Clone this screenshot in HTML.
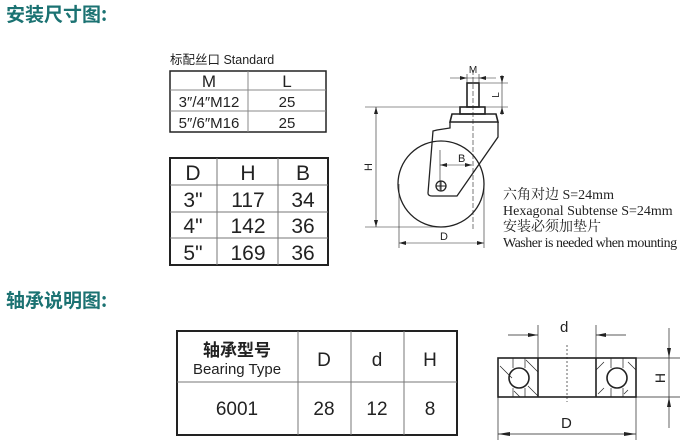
<!DOCTYPE html>
<html><head><meta charset="utf-8"><style>
body{margin:0;width:686px;height:443px;background:#fff;position:relative;overflow:hidden;font-family:"Liberation Sans","Noto Sans CJK SC",sans-serif}
.t{position:absolute;color:#1b7272;font-weight:bold;font-size:19px;font-family:"Noto Sans CJK SC",sans-serif;line-height:1}
svg{position:absolute;left:0;top:0}
</style></head><body>
<div class="t" style="left:6px;top:4px">安装尺寸图:</div>
<div class="t" style="left:6px;top:290px">轴承说明图:</div>
<svg width="686" height="443" viewBox="0 0 686 443" font-family="Liberation Sans, Noto Sans CJK SC, sans-serif" fill="none" stroke="#222">
<!-- table1 -->
<text x="170" y="64" font-size="12.5" fill="#222" stroke="none">标配丝口 Standard</text>
<rect x="170" y="71" width="156" height="61" stroke-width="1.5"/>
<line x1="170" y1="90" x2="326" y2="90" stroke="#888"/>
<line x1="170" y1="111" x2="326" y2="111" stroke="#888"/>
<line x1="248" y1="71" x2="248" y2="132" stroke="#888"/>
<g fill="#222" stroke="none" font-size="15" text-anchor="middle">
<text x="209" y="87" font-size="17">M</text><text x="287" y="87" font-size="17">L</text>
<text x="209" y="107">3″/4″M12</text><text x="287" y="107">25</text>
<text x="209" y="128">5″/6″M16</text><text x="287" y="128">25</text>
</g>
<!-- table2 -->
<rect x="170" y="158" width="158" height="107" stroke-width="2"/>
<line x1="170" y1="185" x2="328" y2="185" stroke="#777"/>
<line x1="170" y1="212" x2="328" y2="212" stroke="#777"/>
<line x1="170" y1="238" x2="328" y2="238" stroke="#777"/>
<line x1="217" y1="158" x2="217" y2="265" stroke="#777"/>
<line x1="278" y1="158" x2="278" y2="265" stroke="#777"/>
<g fill="#222" stroke="none" font-size="21" text-anchor="middle">
<text x="193" y="180">D</text><text x="248" y="180">H</text><text x="303" y="180">B</text>
<text x="193" y="207">3"</text><text x="248" y="207">117</text><text x="303" y="207">34</text>
<text x="193" y="233">4"</text><text x="248" y="233">142</text><text x="303" y="233">36</text>
<text x="193" y="260">5"</text><text x="248" y="260">169</text><text x="303" y="260">36</text>
</g>
<!-- caster -->
<g stroke-width="1.3">
<circle cx="441" cy="184" r="43"/>
<rect x="467" y="83" width="12" height="24" stroke-width="1.6"/>
<rect x="460" y="107" width="25" height="7" stroke-width="1.6"/>
<path d="M450 122 L452 114 L496 114 L498 122 Z" stroke-width="1.6"/>
<path d="M450 122 L450 128 L437 130 L433 131 L428 193 Q428 196 432 196 L457 196 L498 137 L498 122"/>
<circle cx="441" cy="186" r="5"/>
<path d="M436 186h10M441 181v10" stroke-width="1"/>
</g>
<g stroke-width="0.6">
<line x1="473" y1="70" x2="473" y2="230" stroke-dasharray="5 2"/>
<line x1="365" y1="107" x2="460" y2="107"/><line x1="365" y1="227" x2="441" y2="227"/>
<line x1="376" y1="107" x2="376" y2="227"/>
<line x1="399" y1="184" x2="399" y2="248"/><line x1="484" y1="184" x2="484" y2="248"/>
<line x1="399" y1="243" x2="484" y2="243"/>
<line x1="440" y1="150" x2="440" y2="190"/>
<line x1="440" y1="165" x2="472" y2="165"/>
<line x1="467" y1="74" x2="467" y2="83"/><line x1="479" y1="74" x2="479" y2="83"/>
<line x1="450" y1="78" x2="496" y2="78"/>
<line x1="480" y1="83" x2="508" y2="83"/><line x1="486" y1="107" x2="508" y2="107"/>
<line x1="502" y1="75" x2="502" y2="115"/>
</g>
<g fill="#222" stroke="none">
<path d="M376 107l-2 7h4zM376 227l-2-7h4zM399 243l7-2v4zM484 243l-7-2v4zM440 165l7-2v4zM472 165l-7-2v4zM467 78l-7-2v4zM479 78l7-2v4zM502 83l-2-7h4zM502 107l2 7h-4z"/>
<text x="473" y="73" font-size="10" text-anchor="middle">M</text>
<text x="440" y="240" font-size="11">D</text>
<text x="458" y="162" font-size="11">B</text>
<text transform="translate(372 167) rotate(-90)" font-size="11" text-anchor="middle">H</text>
<text transform="translate(499 95) rotate(-90)" font-size="10" text-anchor="middle">L</text>
<g font-family="Liberation Serif, Noto Serif CJK SC, serif" font-size="14">
<text x="503" y="199">六角对边 S=24mm</text>
<text x="503" y="215">Hexagonal Subtense S=24mm</text>
<text x="503" y="231">安装必须加垫片</text>
<text x="503" y="247" letter-spacing="-0.5">Washer is needed when mounting</text>
</g>
</g>
<!-- bearing table -->
<rect x="177" y="331" width="280" height="104" stroke-width="2"/>
<line x1="177" y1="382" x2="457" y2="382" stroke="#777"/>
<line x1="298" y1="331" x2="298" y2="435" stroke="#777"/>
<line x1="351" y1="331" x2="351" y2="435" stroke="#777"/>
<line x1="404" y1="331" x2="404" y2="435" stroke="#777"/>
<g fill="#222" stroke="none" text-anchor="middle">
<text x="237" y="356" font-size="17" font-weight="bold" font-family="Noto Sans CJK SC, sans-serif">轴承型号</text>
<text x="237" y="374" font-size="15">Bearing Type</text>
<text x="324" y="366" font-size="19">D</text><text x="377" y="366" font-size="19">d</text><text x="430" y="366" font-size="19">H</text>
<text x="237" y="415" font-size="19">6001</text><text x="324" y="415" font-size="19">28</text><text x="377" y="415" font-size="19">12</text><text x="430" y="415" font-size="19">8</text>
</g>
<!-- bearing drawing -->
<g stroke-width="1.6">
<rect x="498" y="358" width="138" height="39"/>
<line x1="538" y1="358" x2="538" y2="397"/><line x1="596" y1="358" x2="596" y2="397"/>
<circle cx="519" cy="378" r="10"/><circle cx="617" cy="378" r="10"/>
</g>
<g stroke-width="0.7">
<path d="M513 358v10M525 358v10M513 388v9M525 388v9M611 358v10M623 358v10M611 388v9M623 388v9"/>
<path d="M500 366l12 12M520 397l-6-6M526 360l12 12M528 386l10 10M596 370l8-8M598 394l6-6M628 362l8 8M628 390l-4 4"/>
<line x1="567" y1="345" x2="567" y2="402" stroke-dasharray="2 2"/>
<line x1="538" y1="325" x2="538" y2="358"/><line x1="596" y1="325" x2="596" y2="358"/>
<line x1="508" y1="335" x2="538" y2="335"/><line x1="596" y1="335" x2="626" y2="335"/>
<line x1="498" y1="397" x2="498" y2="440"/><line x1="636" y1="397" x2="636" y2="440"/>
<line x1="498" y1="434" x2="636" y2="434"/>
<line x1="636" y1="358" x2="680" y2="358"/><line x1="636" y1="397" x2="680" y2="397"/>
<line x1="669" y1="328" x2="669" y2="428"/>
</g>
<g fill="#222" stroke="none">
<path d="M538 335l-10-2v4zM596 335l10-2v4zM498 434l12-2v4zM636 434l-12-2v4zM669 358l-2-10h4zM669 397l-2 10h4z"/>
<text x="560" y="332" font-size="15">d</text>
<text x="561" y="428" font-size="15">D</text>
<text transform="translate(665 378) rotate(-90)" font-size="14" text-anchor="middle">H</text>
</g>
</svg>
</body></html>
